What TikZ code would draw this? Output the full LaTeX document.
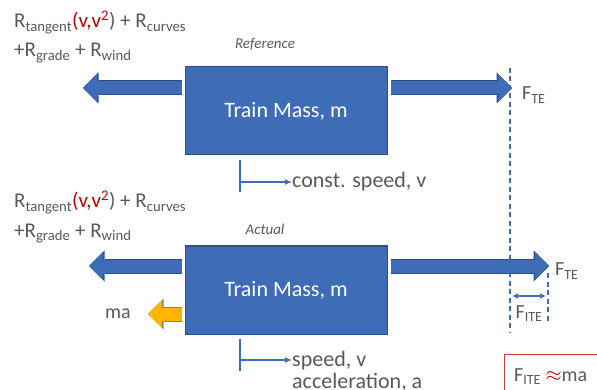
\documentclass[tikz,border=0pt]{standalone}
\usepackage{fontspec}
\setmainfont{Carlito}
\usetikzlibrary{arrows.meta, positioning, calc}

\definecolor{massblue}{RGB}{62,108,182}
\definecolor{edgeblue}{RGB}{45,78,138}
\definecolor{txtgray}{RGB}{89,89,89}
\definecolor{vred}{RGB}{192,0,0}
\definecolor{maorange}{RGB}{255,180,0}
\definecolor{boxred}{RGB}{200,60,60}

\newcommand{\rtext}[2]{\fontsize{#1}{#2}\selectfont}

\begin{document}
\begin{tikzpicture}[
  x=1pt, y=-1pt,
  mass/.style={draw=edgeblue, fill=massblue, line width=1pt, minimum width=202pt,
    minimum height=88pt, text=white, font=\rtext{22}{26}},
  lbl/.style={text=txtgray, font=\rtext{20}{24}, inner sep=0pt},
  restxt/.style={lbl, font=\rtext{21}{25}},
  casetag/.style={text=txtgray, font=\rtext{15}{18}\itshape, inner sep=0pt},
  fat/.style={draw=#1, line width=13pt,
    -{Triangle[length=14pt, width=28pt, line width=0pt 0]}},
  fatedge/.style={draw=#1, line width=15pt,
    -{Triangle[length=15.5pt, width=31pt, line width=0pt 0]}},
  thinarrow/.style={draw=massblue, line width=1.2pt, -{Latex[length=7pt, width=6pt]}},
  fline/.style={draw=massblue, line width=1.4pt, dash pattern=on 5pt off 3.5pt}
]
  \clip (0,0) rectangle (597,390);

  % reference case
  \node[mass] (massref) at (286,111) {Train Mass, m};
  \node[casetag] (tagref) at (265,44) {Reference};
  \node[restxt, anchor=base west] (resref1) at (14,28)
    {R\textsubscript{tangent}\textcolor{vred}{(v,v\textsuperscript{2}}) + R\textsubscript{curves}};
  \node[restxt, anchor=base west] (resref2) at (14,57)
    {+R\textsubscript{grade} + R\textsubscript{wind}};

  \coordinate (lref0) at (182,88);
  \coordinate (lref1) at (83,88);
  \coordinate (rref0) at (391,88);
  \coordinate (rref1) at (512,88);
  \draw[fatedge=edgeblue] (lref0) -- (lref1);
  \draw[fat=massblue] (lref0) -- (lref1);
  \draw[fatedge=edgeblue] (rref0) -- (rref1);
  \draw[fat=massblue] (rref0) -- (rref1);
  \node[lbl, anchor=base west] (fteref) at (522,100) {F\textsubscript{TE}};

  \node[lbl, anchor=west, font=\rtext{22}{26}] (spdref) at (292,182) {const. speed, v};
  \draw[draw=massblue, line width=1.2pt] (240,160) -- (240,192);
  \draw[thinarrow] (240,182) -- (spdref.west);

  % actual case
  \node[mass] (massact) at (286,290) {Train Mass, m};
  \node[casetag] (tagact) at (265,229) {Actual};
  \node[restxt, anchor=base west] (resact1) at (14,208)
    {R\textsubscript{tangent}\textcolor{vred}{(v,v\textsuperscript{2}}) + R\textsubscript{curves}};
  \node[restxt, anchor=base west] (resact2) at (14,237)
    {+R\textsubscript{grade} + R\textsubscript{wind}};

  \coordinate (lact0) at (182,266);
  \coordinate (lact1) at (89,266);
  \coordinate (ract0) at (391,266);
  \coordinate (ract1) at (549,266);
  \draw[fatedge=edgeblue] (lact0) -- (lact1);
  \draw[fat=massblue] (lact0) -- (lact1);
  \draw[fatedge=edgeblue] (ract0) -- (ract1);
  \draw[fat=massblue] (ract0) -- (ract1);
  \node[lbl, anchor=base west] (fteact) at (555,276) {F\textsubscript{TE}};

  \coordinate (ma0) at (182,314);
  \coordinate (ma1) at (148,314);
  \draw[fatedge=gray] (ma0) -- (ma1);
  \draw[fat=maorange] (ma0) -- (ma1);
  \node[lbl, anchor=east] (malbl) at (131,314) {ma};

  \node[lbl, anchor=west, font=\rtext{22}{22}, align=left] (spdact) at (292,371)
    {speed, v\\acceleration, a};
  \draw[draw=massblue, line width=1.2pt] (240,339) -- (240,371);
  \draw[thinarrow] (240,360) -- (292,360);

  % traction effort lines
  \coordinate (dash0) at (510,68);
  \coordinate (dash1) at (510,332);
  \coordinate (dash2) at (548,273);
  \coordinate (dash3) at (548,322);
  \draw[fline] (dash0) -- (dash1);
  \draw[fline] (dash2) -- (dash3);
  \draw[draw=massblue, line width=1.2pt, {Latex[length=6pt, width=6pt]}-{Latex[length=6pt, width=6pt]}]
    (512,296) -- (546,296);
  \node[lbl, anchor=base] (ite) at (529,318) {F\textsubscript{ITE}};

  \node[draw=boxred, line width=1pt, anchor=north west, minimum width=93pt, minimum height=50pt,
    text=txtgray, font=\rtext{20}{24}, inner sep=0pt] (itebox) at (504,354) {};
  \node[lbl, anchor=base west] (iteeq) at (514,381)
    {F\textsubscript{ITE} \textcolor{vred}{$\approx$}ma};
\end{tikzpicture}
\end{document}
